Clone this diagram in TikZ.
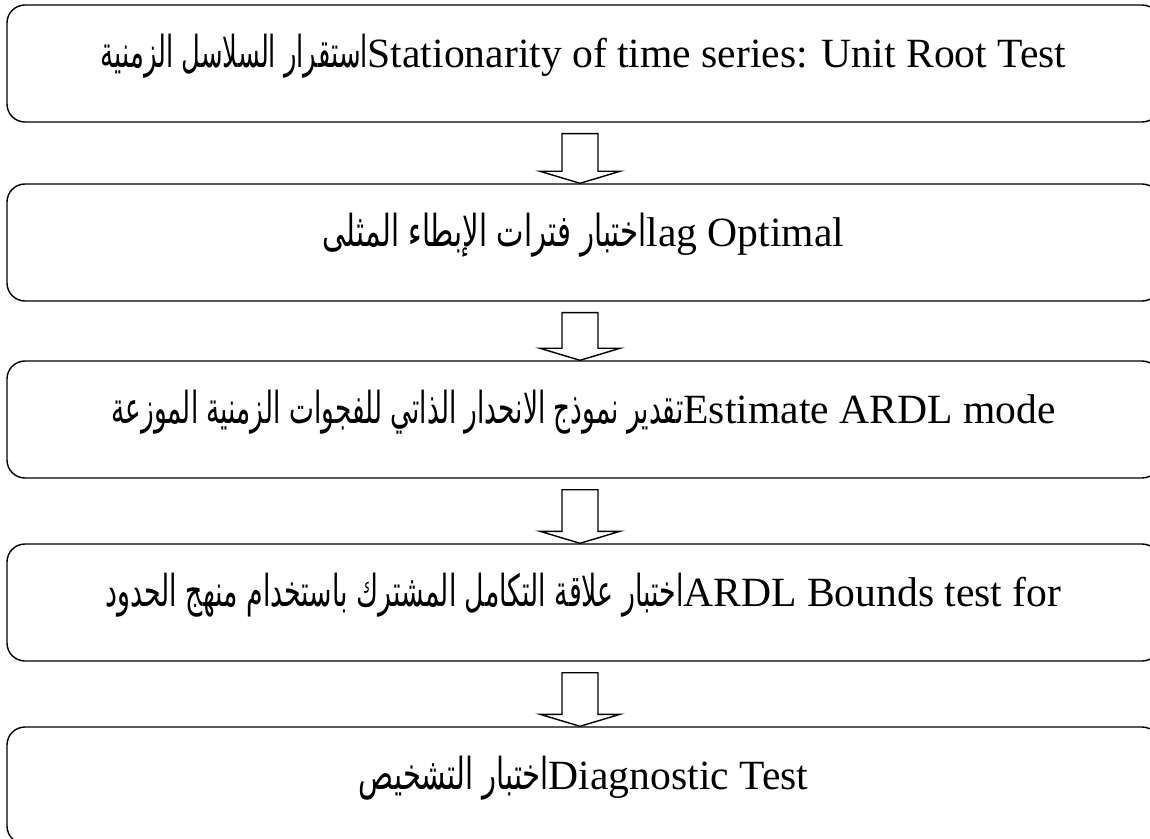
\documentclass[tikz,border=0pt]{standalone}
\usepackage{fontspec}
\usepackage{graphicx}
\setmainfont{Liberation Serif}
\newfontfamily\arabicfont[Script=Arabic]{DejaVu Sans}
\TeXXeTstate=1
\usetikzlibrary{calc}
\newcommand{\artxt}[2]{\resizebox{#1}{\height}{\arabicfont\fontsize{22}{26}\selectfont\beginR #2\endR}}
\tikzset{
  stagebox/.style={draw=black, line width=0.7pt, rounded corners=9pt,
    minimum width=576.5pt, minimum height=58.5pt, inner sep=0pt,
    text height=12pt, text depth=8pt, font=\fontsize{20.8}{24}\selectfont},
  blockarr/.style={draw=black, fill=white, line width=0.7pt, line join=miter}
}
\newcommand{\blockarrow}[2]{%
  \draw[blockarr] ($(#1.south -| ax)+(-18,11)$) -- ($(#1.south -| ax)+(18,11)$)
    -- ($(#2.north -| ax)+(18,-12)$) -- ($(#2.north -| ax)+(40,-12)$)
    -- (#2.north -| ax) -- ($(#2.north -| ax)+(-40,-12)$)
    -- ($(#2.north -| ax)+(-18,-12)$) -- cycle;}
\begin{document}
\begin{tikzpicture}[x=0.5pt, y=-0.5pt]
\useasboundingbox (0,0) rectangle (1150,839);
\coordinate (ax) at (580,0);
\node[stagebox] (b1) at (583.5,63.5) {\artxt{133.5pt}{استقرار السلاسل الزمنية}Stationarity of time series: Unit Root Test};
\node[stagebox] (b2) at (583.5,242.5) {\artxt{162pt}{اختبار فترات الإبطاء المثلى}lag Optimal};
\node[stagebox] (b3) at (583.5,419.5) {\artxt{286pt}{تقدير نموذج الانحدار الذاتي للفجوات الزمنية الموزعة}Estimate ARDL mode};
\node[stagebox] (b4) at (583.5,602.5) {\artxt{289pt}{اختبار علاقة التكامل المشترك باستخدام منهج الحدود}ARDL Bounds test for};
\node[stagebox] (b5) at (583.5,785.5) {\artxt{95pt}{اختبار التشخيص}Diagnostic Test};
\blockarrow{b1}{b2}
\blockarrow{b2}{b3}
\blockarrow{b3}{b4}
\blockarrow{b4}{b5}
\end{tikzpicture}
\end{document}
